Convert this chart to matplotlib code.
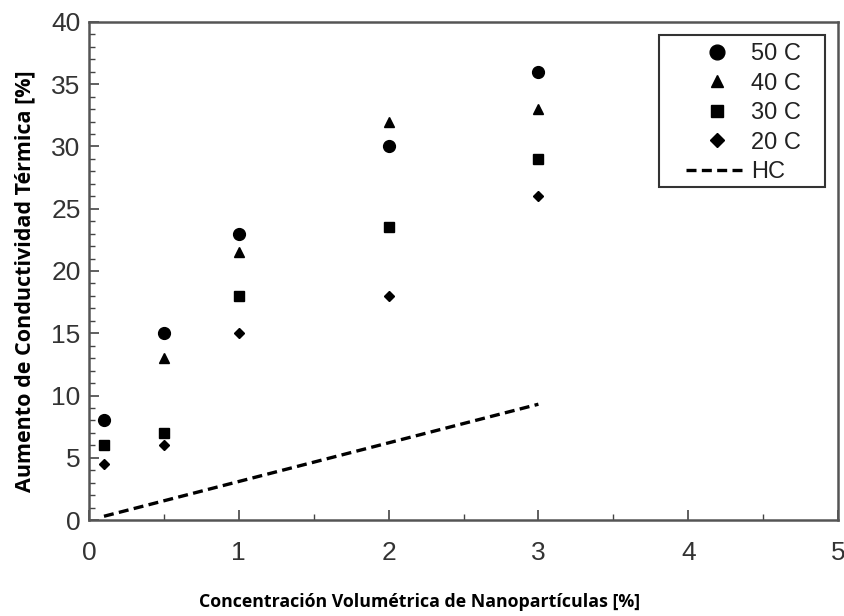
import matplotlib
matplotlib.use("Agg")
import matplotlib.pyplot as plt
import numpy as np
from matplotlib.ticker import MultipleLocator
from matplotlib.patches import Rectangle

conc = [0.1, 0.5, 1, 2, 3]
t50 = [8, 15, 23, 30, 36]
t40 = [np.nan, 13, 21.5, 32, 33]
t30 = [6, 7, 18, 23.5, 29]
t20 = [4.5, 6, 15, 18, 26]
hc = [0.3, 1.5, 3.0, 6.1, 9.3]

labels = ["50 C", "40 C", "30 C", "20 C", "HC"]
xticks = [0, 1, 2, 3, 4, 5]
yticks = [0, 5, 10, 15, 20, 25, 30, 35, 40]

plt.rcParams['font.family'] = ['Liberation Sans', 'DejaVu Sans']

W, H = 844, 616
fig = plt.figure(figsize=(W / 100, H / 100), dpi=100)
ax = fig.add_axes([89/W, 1-520/H, 749/W, 498/H])

ax.plot(conc, t50, linestyle='none', marker='o', color='black', markersize=8.5, label=labels[0])
ax.plot(conc, t40, linestyle='none', marker='^', color='black', markersize=7, label=labels[1])
ax.plot(conc, t30, linestyle='none', marker='s', color='black', markersize=7, label=labels[2])
ax.plot(conc, t20, linestyle='none', marker='D', color='black', markersize=5.5, label=labels[3])
ax.plot([conc[0], conc[-1]], [hc[0], hc[-1]], linestyle=(0, (3.0, 1.6)), color='black', linewidth=2.4, label=labels[4])

ax.set_xlim(0, 5)
ax.set_ylim(0, 40)
ax.set_xticks(xticks)
ax.set_yticks(yticks)
ax.xaxis.set_minor_locator(MultipleLocator(0.5))
ax.yaxis.set_minor_locator(MultipleLocator(1))
ax.tick_params(which='major', direction='in', length=7, width=1.2, color='#444444',
               labelsize=19, labelcolor='#333333', top=False, right=False)
ax.tick_params(which='minor', direction='in', length=4, width=1.0, color='#444444', top=False, right=False)
ax.tick_params(axis='x', which='major', pad=15)
ax.tick_params(axis='y', which='major', pad=6)
for s in ax.spines.values():
    s.set_color('#555555')
    s.set_linewidth(1.8)

fig.text(25/W, 1-281/H, "Aumento de Conductividad Térmica [%]", rotation=90,
         ha='center', va='center', fontsize=15.5, fontweight='bold',
         family=['Open Sans', 'DejaVu Sans'])
fig.text(420/W, 1-602/H, "Concentración Volumétrica de Nanopartículas [%]",
         ha='center', va='center', fontsize=12.8, fontweight='bold', family=['Open Sans', 'DejaVu Sans'])

# legend (frame drawn separately to get wider side padding)
leg = ax.legend(loc='upper left', bbox_to_anchor=((686 - 89) / 749, (520 - 43) / 498),
                bbox_transform=ax.transAxes,
                fontsize=17, frameon=False,
                handlelength=2.6, handletextpad=0.17, labelspacing=0.32, borderpad=0,
                borderaxespad=0, markerscale=1.25)
for t in leg.get_texts():
    t.set_color('#222222')
ax.add_patch(Rectangle(((659 - 89) / 749, (520 - 187) / 498), (825 - 659) / 749, (187 - 35) / 498,
                       transform=ax.transAxes, fill=False, edgecolor='#333333', linewidth=1.5,
                       zorder=5))

fig.savefig("out.png", dpi=100)
